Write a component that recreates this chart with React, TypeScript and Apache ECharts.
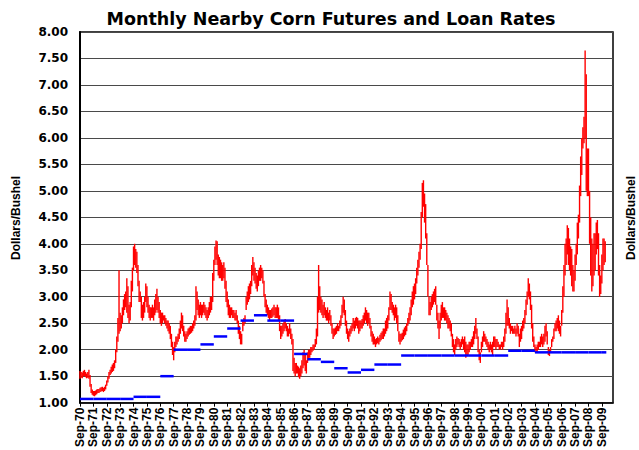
import React, { useEffect, useRef } from "react";
import * as echarts from "echarts";

const tickLabels = [
  "Sep-70","Sep-71","Sep-72","Sep-73","Sep-74","Sep-75","Sep-76","Sep-77","Sep-78","Sep-79",
  "Sep-80","Sep-81","Sep-82","Sep-83","Sep-84","Sep-85","Sep-86","Sep-87","Sep-88","Sep-89",
  "Sep-90","Sep-91","Sep-92","Sep-93","Sep-94","Sep-95","Sep-96","Sep-97","Sep-98","Sep-99",
  "Sep-00","Sep-01","Sep-02","Sep-03","Sep-04","Sep-05","Sep-06","Sep-07","Sep-08","Sep-09",
];

// monthly low / high, starting Sep-1970
const lowPrices = [
  1.45,1.47,1.46,1.50,1.50,1.48,1.46,1.47,1.45,1.30,1.18,1.15,
  1.13,1.12,1.14,1.16,1.18,1.18,1.20,1.21,1.22,1.20,1.22,1.25,
  1.32,1.38,1.45,1.52,1.55,1.58,1.60,1.65,1.75,1.95,2.15,2.30,
  2.35,2.40,2.50,2.65,2.75,2.80,2.70,2.60,2.50,2.55,2.80,3.10,
  3.50,3.60,3.55,3.45,3.20,2.90,2.90,2.60,2.55,2.60,2.70,2.90,
  2.80,2.70,2.60,2.55,2.60,2.60,2.55,2.65,2.70,2.75,2.70,2.60,
  2.50,2.45,2.50,2.55,2.50,2.45,2.40,2.35,2.30,2.20,2.05,1.90,
  1.80,1.95,2.05,2.10,2.15,2.20,2.30,2.40,2.35,2.25,2.15,2.15,
  2.20,2.25,2.28,2.30,2.32,2.35,2.40,2.45,2.55,2.75,2.65,2.60,
  2.65,2.60,2.65,2.70,2.65,2.60,2.55,2.60,2.65,2.70,2.75,2.90,
  3.30,3.60,3.70,3.60,3.40,3.35,3.35,3.30,3.30,3.35,3.15,2.90,
  2.80,2.65,2.60,2.60,2.65,2.60,2.60,2.55,2.55,2.50,2.30,2.20,
  2.10,2.10,2.35,2.45,2.50,2.75,2.85,2.90,2.95,3.05,3.20,3.40,
  3.30,3.25,3.15,3.10,3.20,3.30,3.30,3.35,3.25,3.00,2.80,2.70,
  2.65,2.60,2.55,2.60,2.60,2.62,2.65,2.60,2.60,2.60,2.55,2.35,
  2.20,2.25,2.30,2.35,2.40,2.35,2.25,2.25,2.30,2.20,2.10,1.60,
  1.55,1.50,1.55,1.55,1.48,1.45,1.50,1.55,1.65,1.70,1.60,1.55,
  1.75,1.80,1.85,1.90,1.95,1.98,2.00,2.05,2.10,2.25,2.70,2.75,
  2.70,2.65,2.60,2.65,2.60,2.55,2.55,2.50,2.55,2.45,2.30,2.20,
  2.25,2.28,2.30,2.35,2.35,2.40,2.45,2.60,2.70,2.65,2.45,2.30,
  2.20,2.15,2.25,2.30,2.35,2.40,2.35,2.40,2.45,2.40,2.30,2.35,
  2.40,2.40,2.45,2.50,2.55,2.50,2.45,2.50,2.40,2.25,2.15,2.10,
  2.10,2.05,2.10,2.12,2.10,2.15,2.18,2.20,2.20,2.25,2.30,2.35,
  2.40,2.55,2.75,2.75,2.70,2.65,2.55,2.60,2.50,2.35,2.15,2.10,
  2.15,2.18,2.20,2.25,2.28,2.35,2.45,2.50,2.55,2.65,2.80,2.85,
  2.95,3.05,3.25,3.40,3.55,3.70,3.90,4.50,4.70,4.40,4.10,3.60,
  3.00,2.65,2.65,2.75,2.80,2.85,2.90,2.85,2.55,2.40,2.20,2.40,
  2.55,2.60,2.60,2.55,2.55,2.50,2.40,2.40,2.35,2.25,2.05,1.95,
  1.90,2.00,2.05,2.10,2.05,2.00,2.05,2.10,2.00,1.95,1.85,1.90,
  1.90,1.95,2.00,2.05,2.05,2.10,2.20,2.30,2.20,1.95,1.80,1.75,
  1.95,2.05,2.15,2.15,2.10,2.05,2.00,1.95,2.00,1.95,1.90,2.05,
  2.05,2.00,2.05,2.05,2.00,2.00,2.05,2.00,2.05,2.15,2.30,2.45,
  2.45,2.40,2.30,2.35,2.30,2.30,2.30,2.25,2.30,2.25,2.05,2.15,
  2.20,2.35,2.40,2.50,2.65,2.85,3.00,2.95,2.75,2.40,2.15,2.05,
  1.95,1.95,1.95,2.00,2.05,2.05,2.10,2.05,2.10,2.15,2.25,2.10,
  1.90,1.88,1.95,2.05,2.15,2.20,2.35,2.35,2.40,2.35,2.30,2.25,
  2.45,2.70,3.00,3.40,3.60,3.80,3.60,3.50,3.40,3.20,3.10,3.10,
  3.30,3.60,3.80,4.10,4.40,4.90,5.30,5.80,5.90,6.00,5.00,4.90,
  4.90,4.00,3.40,3.10,3.20,3.40,3.50,3.80,3.90,3.40,3.00,3.05,
  3.25,3.50,3.60,3.65,
];

const highPrices = [
  1.60,1.58,1.57,1.60,1.62,1.58,1.55,1.58,1.62,1.52,1.35,1.25,
  1.22,1.22,1.23,1.25,1.26,1.26,1.28,1.29,1.30,1.28,1.30,1.34,
  1.42,1.50,1.58,1.62,1.68,1.72,1.75,1.80,2.00,2.25,2.60,3.50,
  2.70,2.65,2.80,2.95,3.05,3.10,3.35,3.20,2.85,2.90,3.30,3.55,
  3.95,4.00,3.90,3.85,3.60,3.30,3.10,3.00,2.85,2.90,3.00,3.25,
  3.20,3.00,2.85,2.80,2.80,2.85,2.80,2.95,3.05,3.15,3.00,2.90,
  2.75,2.70,2.70,2.65,2.65,2.60,2.55,2.55,2.50,2.45,2.30,2.15,
  2.05,2.15,2.25,2.25,2.30,2.40,2.55,2.70,2.65,2.45,2.35,2.30,
  2.35,2.40,2.42,2.45,2.45,2.50,2.55,2.65,3.20,3.10,2.95,2.85,
  2.90,2.85,2.85,2.90,2.85,2.80,2.75,2.80,2.90,3.00,3.00,3.45,
  3.70,3.95,4.06,4.05,3.80,3.75,3.70,3.65,3.60,3.65,3.55,3.30,
  3.10,2.95,2.85,2.80,2.80,2.75,2.75,2.70,2.75,2.65,2.55,2.45,
  2.35,2.30,2.55,2.60,2.65,3.00,3.10,3.20,3.25,3.30,3.60,3.75,
  3.65,3.55,3.45,3.40,3.50,3.55,3.60,3.55,3.50,3.30,3.05,2.95,
  2.85,2.80,2.75,2.75,2.78,2.80,2.85,2.80,2.80,2.85,2.80,2.65,
  2.45,2.45,2.50,2.55,2.58,2.50,2.45,2.40,2.50,2.40,2.30,2.20,
  1.85,1.75,1.75,1.70,1.68,1.65,1.70,1.80,1.95,2.00,1.90,1.80,
  1.95,2.00,2.00,2.05,2.05,2.10,2.10,2.20,2.40,3.00,3.60,3.20,
  3.00,2.95,2.85,2.90,2.80,2.75,2.80,2.70,2.75,2.65,2.50,2.40,
  2.40,2.42,2.45,2.50,2.45,2.55,2.65,2.85,3.00,2.95,2.75,2.55,
  2.40,2.35,2.40,2.45,2.50,2.60,2.55,2.60,2.62,2.60,2.55,2.55,
  2.55,2.58,2.65,2.70,2.80,2.75,2.70,2.70,2.60,2.45,2.35,2.30,
  2.25,2.20,2.22,2.25,2.22,2.28,2.32,2.35,2.40,2.40,2.55,2.60,
  2.65,2.80,3.10,3.05,2.90,2.85,2.80,2.85,2.80,2.65,2.35,2.30,
  2.30,2.32,2.38,2.42,2.45,2.50,2.60,2.70,2.80,2.95,3.10,3.20,
  3.25,3.35,3.55,3.70,3.85,4.00,4.60,5.15,5.20,4.95,4.75,4.20,
  3.60,3.00,2.90,3.00,3.05,3.10,3.15,3.20,2.85,2.70,2.55,2.70,
  2.85,2.90,2.80,2.80,2.75,2.70,2.65,2.60,2.55,2.50,2.30,2.20,
  2.10,2.20,2.25,2.22,2.20,2.15,2.20,2.25,2.20,2.25,2.15,2.10,
  2.10,2.15,2.15,2.20,2.25,2.35,2.45,2.60,2.40,2.25,2.00,1.95,
  2.15,2.25,2.35,2.30,2.25,2.20,2.15,2.10,2.15,2.10,2.15,2.25,
  2.25,2.20,2.20,2.15,2.10,2.10,2.15,2.15,2.25,2.40,2.70,2.95,
  2.80,2.60,2.50,2.45,2.45,2.40,2.45,2.40,2.50,2.45,2.30,2.40,
  2.45,2.55,2.60,2.75,2.95,3.10,3.35,3.25,3.10,2.85,2.50,2.25,
  2.10,2.05,2.10,2.15,2.15,2.25,2.30,2.25,2.30,2.45,2.50,2.35,
  2.05,2.00,2.05,2.20,2.25,2.40,2.50,2.55,2.60,2.65,2.55,2.45,
  2.75,3.20,3.60,4.00,4.10,4.35,4.30,4.10,3.95,3.90,3.60,3.50,
  3.80,4.00,4.40,4.55,5.10,5.65,6.00,6.20,6.40,7.65,7.20,5.80,
  5.80,5.00,4.50,4.10,4.00,4.20,4.20,4.40,4.45,4.20,3.60,3.40,
  3.80,4.10,4.10,4.05,
];

const loanYears = [
  1970,1971,1972,1973,1974,1975,1976,1977,1978,1979,
  1980,1981,1982,1983,1984,1985,1986,1987,1988,1989,
  1990,1991,1992,1993,1994,1995,1996,1997,1998,1999,
  2000,2001,2002,2003,2004,2005,2006,2007,2008,2009,
];
const loanRates = [
  1.07,1.07,1.07,1.07,1.11,1.11,1.50,2.00,2.00,2.10,
  2.25,2.40,2.55,2.65,2.55,2.55,1.92,1.82,1.77,1.65,
  1.57,1.62,1.72,1.72,1.89,1.89,1.89,1.89,1.89,1.89,
  1.89,1.89,1.98,1.98,1.95,1.95,1.95,1.95,1.95,1.95,
];

const baseYear = 1970;

export default function App() {
  const ref = useRef<HTMLDivElement>(null);
  useEffect(() => {
    if (!ref.current) return;
    const chart = echarts.init(ref.current, null, { renderer: "svg" });
    const lastMonth = lowPrices.length;
    const priceData = lowPrices.map((lo, i) => [i, lo, highPrices[i]]);
    const loanData = loanYears.map((y, i) => {
      const s = (y - baseYear) * 12;
      return [s, Math.min(s + 12, lastMonth), loanRates[i]];
    });
    chart.setOption({
      animation: false,
      backgroundColor: "#fff",
      grid: { left: 80, right: 26, top: 32, bottom: 46, show: true, borderColor: "#000", borderWidth: 1.5 },
      graphic: [
        {
          type: "text", x: 331, y: 19,
          style: { text: "Monthly Nearby Corn Futures and Loan Rates", align: "center", verticalAlign: "middle",
            fontFamily: "DejaVu Sans", fontWeight: "bold", fontSize: 17.5, fill: "#000" },
        },
        {
          type: "text", x: 16, y: 218, rotation: Math.PI / 2,
          style: { text: "Dollars/Bushel", align: "center", verticalAlign: "middle",
            fontFamily: "Liberation Sans", fontWeight: "bold", fontSize: 12, fill: "#000" },
        },
        {
          type: "text", x: 631, y: 218, rotation: Math.PI / 2,
          style: { text: "Dollars/Bushel", align: "center", verticalAlign: "middle",
            fontFamily: "Liberation Sans", fontWeight: "bold", fontSize: 12, fill: "#000" },
        },
      ],
      xAxis: {
        type: "value", min: 0, max: 478, interval: 12,
        axisLine: { show: true, lineStyle: { color: "#000", width: 1.5 } },
        axisTick: { show: true, length: 4, lineStyle: { color: "#000", width: 1 } },
        axisLabel: {
          rotate: 90, margin: 5, showMaxLabel: false,
          formatter: (v: number) => tickLabels[Math.round(v / 12)] ?? "",
          fontFamily: "Liberation Sans", fontWeight: "bold", fontSize: 12, color: "#000",
        },
        splitLine: { show: false },
      },
      yAxis: {
        type: "value", min: 1, max: 8, interval: 0.5,
        axisLine: { show: true, lineStyle: { color: "#000", width: 2 } },
        axisTick: { show: false },
        axisLabel: {
          formatter: (v: number) => v.toFixed(2), margin: 12,
          fontFamily: "DejaVu Sans", fontWeight: "bold", fontSize: 12, color: "#000",
        },
        splitLine: { show: true, lineStyle: { color: "#4a4a4a", width: 1 } },
      },
      series: [
        {
          type: "custom", name: "Nearby futures",
          encode: { x: 0, y: [1, 2] },
          data: priceData,
          renderItem: (params: any, api: any) => {
            const x = api.value(0);
            const p1 = api.coord([x, api.value(1)]);
            const p2 = api.coord([x, api.value(2)]);
            return {
              type: "line",
              shape: { x1: p1[0], y1: p1[1], x2: p2[0], y2: p2[1] },
              style: { stroke: "#ff0000", lineWidth: 1.4 },
            };
          },
        },
        {
          type: "custom", name: "Loan rate",
          encode: { x: [0, 1], y: 2 },
          data: loanData,
          renderItem: (params: any, api: any) => {
            const a = api.coord([api.value(0), api.value(2)]);
            const b = api.coord([api.value(1), api.value(2)]);
            return {
              type: "line",
              shape: { x1: a[0], y1: a[1], x2: b[0], y2: b[1] },
              style: { stroke: "#0000ff", lineWidth: 2.5 },
            };
          },
        },
      ],
    });
    return () => chart.dispose();
  }, []);
  return (
    <div
      ref={ref}
      style={{ position: "fixed", left: 0, top: 0, width: 639, height: 450, background: "#fff" }}
    />
  );
}
